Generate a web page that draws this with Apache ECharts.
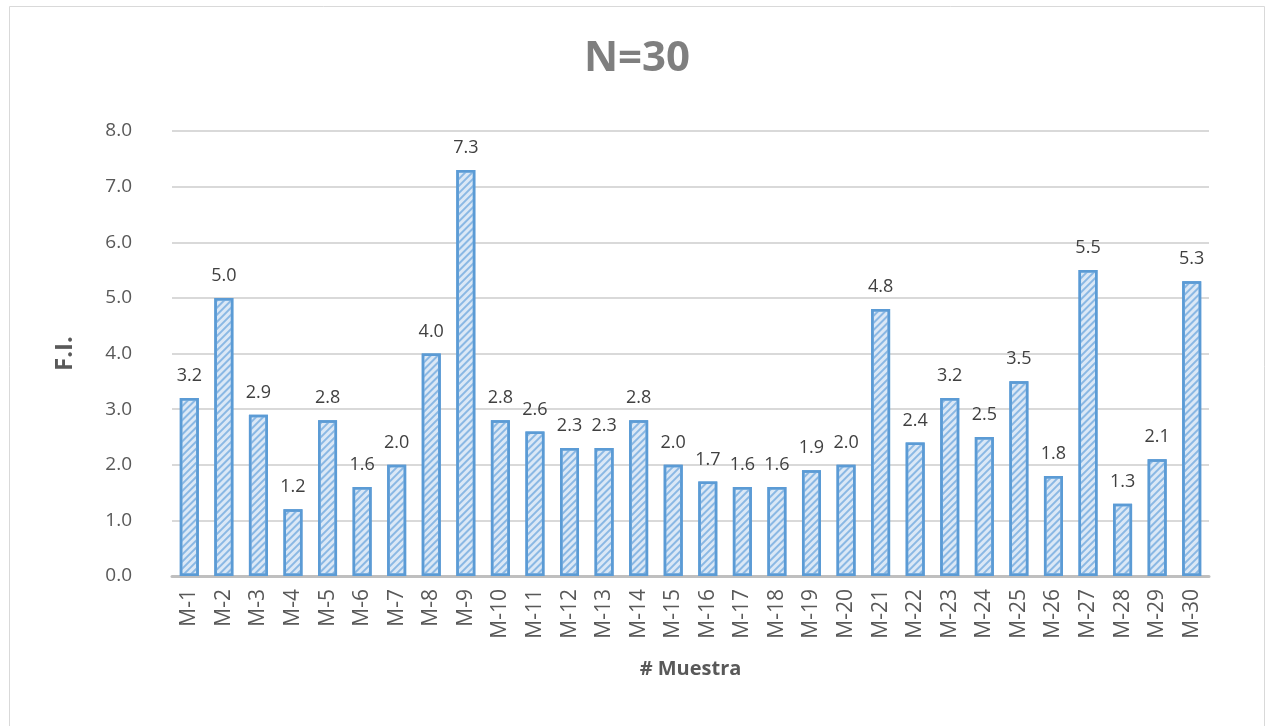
<!DOCTYPE html>
<html><head><meta charset="utf-8">
<script src="https://cdn.jsdelivr.net/npm/echarts@6/dist/echarts.min.js"></script>
<style>html,body{margin:0;padding:0;background:#fff}#c{width:1274px;height:726px}</style>
</head><body><div id="c"></div>
<script>
const categories = ['M-1','M-2','M-3','M-4','M-5','M-6','M-7','M-8','M-9','M-10','M-11','M-12','M-13','M-14','M-15','M-16','M-17','M-18','M-19','M-20','M-21','M-22','M-23','M-24','M-25','M-26','M-27','M-28','M-29','M-30'];
const values = [3.2,5.0,2.9,1.2,2.8,1.6,2.0,4.0,7.3,2.8,2.6,2.3,2.3,2.8,2.0,1.7,1.6,1.6,1.9,2.0,4.8,2.4,3.2,2.5,3.5,1.8,5.5,1.3,2.1,5.3];
const titleText = 'N=30';
const yName = 'F.I.';
const xName = '# Muestra';

const chart = echarts.init(document.getElementById('c'), null, {renderer:'canvas'});
chart.setOption({
  animation:false,
  backgroundColor:'#fff',
  graphic:[{type:'rect',shape:{x:9.5,y:6.5,width:1255,height:740},style:{fill:'none',stroke:'#d9d9d9',lineWidth:1}}],
  title:{text:titleText,left:'center',top:33,textStyle:{fontFamily:'Open Sans',fontWeight:'bold',fontSize:42,color:'#7f7f7f'}},
  grid:{left:172,right:65,top:131,bottom:150},
  xAxis:{type:'category',data:categories,name:xName,nameLocation:'middle',nameGap:83,
    nameTextStyle:{fontFamily:'Open Sans',fontWeight:'bold',fontSize:20,color:'#595959'},
    axisLine:{lineStyle:{color:'#bfbfbf',width:3}},axisTick:{show:false},
    axisLabel:{rotate:90,fontFamily:'Open Sans',fontSize:21,color:'#595959',margin:13}},
  yAxis:{type:'value',min:0,max:8,interval:1,name:yName,nameLocation:'middle',nameGap:95,
    nameTextStyle:{fontFamily:'Open Sans',fontWeight:'bold',fontSize:24,color:'#595959'},
    axisLine:{show:false},axisTick:{show:false},
    axisLabel:{formatter:v=>v.toFixed(1),fontFamily:'Open Sans',fontSize:19,color:'#595959',margin:40},
    splitLine:{lineStyle:{color:'#d9d9d9',width:2}}},
  series:[{type:'bar',data:values,barWidth:19,
    itemStyle:{color:'#dbe8f6',borderColor:'#5b9bd5',borderWidth:2.5,
      decal:{symbol:'rect',color:'#8ab8e4',dashArrayX:[1,0],dashArrayY:[2,3],rotation:-Math.PI/4,symbolSize:1}},
    label:{show:true,position:'top',distance:13,formatter:p=>p.value.toFixed(1),fontFamily:'Open Sans',fontSize:18,color:'#404040'}}]
});
</script></body></html>
